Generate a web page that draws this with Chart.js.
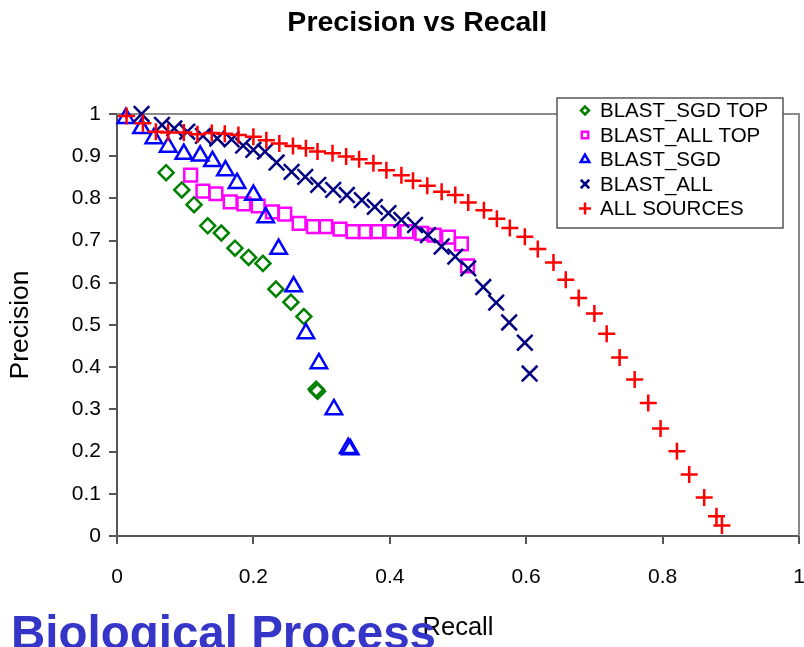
<!DOCTYPE html>
<html>
<head>
<meta charset="utf-8">
<script src="https://cdn.jsdelivr.net/npm/chart.js@4/dist/chart.umd.min.js"></script>
<style>
  body { margin: 0; background: #fff; overflow: hidden; }
  #wrap { position: relative; width: 804px; height: 647px; overflow: hidden; }
  #bp {
    position: absolute; left: 11px; top: 609px;
    font: bold 47.5px "Liberation Sans", Arial, sans-serif; line-height: 47px;
    color: #3535c8; white-space: nowrap;
  }
</style>
</head>
<body>
<div id="wrap">
  <canvas id="myChart" width="804" height="647"></canvas>
  <div id="bp">Biological Process</div>
</div>
<script>
// Series: recall (x) and precision (y)
var sgdTopRecall    = [0.072, 0.095, 0.113, 0.133, 0.153, 0.173, 0.193, 0.214, 0.233, 0.255, 0.274, 0.292, 0.294];
var sgdTopPrecision = [0.861, 0.820, 0.785, 0.735, 0.718, 0.682, 0.660, 0.646, 0.585, 0.554, 0.520, 0.348, 0.343];

var allTopRecall    = [0.108, 0.126, 0.145, 0.166, 0.186, 0.207, 0.228, 0.246, 0.267, 0.288, 0.306, 0.327, 0.346, 0.364, 0.381, 0.403, 0.425, 0.447, 0.465, 0.486, 0.505, 0.514];
var allTopPrecision = [0.855, 0.817, 0.811, 0.792, 0.787, 0.782, 0.768, 0.763, 0.741, 0.733, 0.733, 0.727, 0.721, 0.721, 0.721, 0.721, 0.721, 0.717, 0.713, 0.708, 0.692, 0.640];

var sgdRecall    = [0.013, 0.036, 0.054, 0.075, 0.098, 0.122, 0.140, 0.159, 0.176, 0.200, 0.218, 0.237, 0.259, 0.277, 0.296, 0.318, 0.339, 0.342];
var sgdPrecision = [0.990, 0.966, 0.942, 0.922, 0.905, 0.901, 0.888, 0.866, 0.836, 0.808, 0.755, 0.680, 0.591, 0.480, 0.409, 0.300, 0.208, 0.205];

var allRecall    = [0.036, 0.066, 0.084, 0.103, 0.126, 0.147, 0.168, 0.185, 0.200, 0.217, 0.234, 0.256, 0.276, 0.295, 0.317, 0.337, 0.359, 0.378, 0.398, 0.417, 0.437, 0.456, 0.476, 0.496, 0.515, 0.537, 0.556, 0.575, 0.598, 0.605];
var allPrecision = [1.000, 0.974, 0.966, 0.958, 0.948, 0.942, 0.940, 0.925, 0.915, 0.911, 0.885, 0.863, 0.851, 0.832, 0.820, 0.808, 0.796, 0.780, 0.765, 0.749, 0.737, 0.713, 0.686, 0.662, 0.634, 0.590, 0.553, 0.506, 0.458, 0.385];

var srcRecall    = [0.014, 0.038, 0.057, 0.075, 0.098, 0.118, 0.139, 0.158, 0.178, 0.200, 0.219, 0.238, 0.258, 0.277, 0.294, 0.316, 0.336, 0.355, 0.376, 0.395, 0.417, 0.434, 0.455, 0.476, 0.496, 0.515, 0.538, 0.557, 0.576, 0.598, 0.617, 0.640, 0.658, 0.677, 0.700, 0.718, 0.737, 0.759, 0.779, 0.797, 0.821, 0.839, 0.861, 0.879, 0.887];
var srcPrecision = [0.995, 0.978, 0.958, 0.956, 0.956, 0.952, 0.955, 0.953, 0.950, 0.946, 0.938, 0.930, 0.924, 0.919, 0.911, 0.907, 0.899, 0.893, 0.883, 0.867, 0.855, 0.842, 0.830, 0.816, 0.808, 0.790, 0.772, 0.752, 0.730, 0.709, 0.680, 0.648, 0.607, 0.564, 0.527, 0.479, 0.423, 0.371, 0.315, 0.255, 0.201, 0.146, 0.091, 0.047, 0.025];

var seriesNames = ['BLAST_SGD TOP', 'BLAST_ALL TOP', 'BLAST_SGD', 'BLAST_ALL', 'ALL SOURCES'];
var chartTitle = 'Precision vs Recall';

function toPoints(xs, ys) {
    return xs.map(function (x, i) { return { x: x, y: ys[i] }; });
}

var FONT = '"Liberation Sans", Arial, sans-serif';

// title, frame on top/right of the plot and the boxed legend, Excel style
var framePlugin = {
    id: 'frame',
    afterLayout: function (chart) {
        // let the plot run up to the right edge like the Excel original
        var a = chart.chartArea, x = chart.scales.x;
        var target = chart.width - 5;
        if (a.right !== target) {
            a.right = target;
            a.width = a.right - a.left;
            x.right = target;
            x.width = target - x.left;
            x.configure();
            x._labelItems = null;
            x._gridLineItems = null;
        }
    },
    beforeDatasetsDraw: function (chart) {
        var a = chart.chartArea, ctx = chart.ctx;
        ctx.save();
        ctx.strokeStyle = '#8a8a8a';
        ctx.lineWidth = 2;
        ctx.beginPath();
        ctx.moveTo(a.left, a.top);
        ctx.lineTo(a.right, a.top);
        ctx.lineTo(a.right, a.bottom);
        ctx.stroke();
        // chart title (Excel centres it a bit right of the page middle)
        ctx.fillStyle = '#000';
        ctx.font = 'bold 28.5px ' + FONT;
        ctx.textAlign = 'center';
        ctx.textBaseline = 'middle';
        ctx.fillText(chartTitle, chart.width * 0.519, 23);
        ctx.restore();
    },
    afterDraw: function (chart) {
        var a = chart.chartArea, ctx = chart.ctx;
        var bx = a.right - 242, by = a.top - 16, bw = 226, bh = 130;
        ctx.save();
        ctx.fillStyle = '#fff';
        ctx.fillRect(bx, by, bw, bh);
        ctx.strokeStyle = '#555';
        ctx.lineWidth = 1.5;
        ctx.strokeRect(bx, by, bw, bh);
        ctx.font = '20.5px ' + FONT;
        ctx.textBaseline = 'middle';
        var small = [4, 4.5, 5, 6, 6];
        chart.data.datasets.forEach(function (ds, i) {
            var y = by + 12.5 + i * 24.5;
            ctx.strokeStyle = ds.borderColor;
            ctx.fillStyle = '#fff';
            ctx.lineWidth = 2.5;
            Chart.helpers.drawPoint(ctx, { pointStyle: ds.pointStyle, radius: small[i], borderWidth: 2.5 }, bx + 28, y);
            ctx.fillStyle = '#000';
            ctx.fillText(ds.label, bx + 43, y + 1);
        });
        ctx.restore();
    }
};

function makeSet(i, xs, ys, style, color, radius, order) {
    return {
        label: seriesNames[i],
        data: toPoints(xs, ys),
        pointStyle: style,
        borderColor: color,
        backgroundColor: 'rgba(0,0,0,0)',
        pointRadius: radius,
        pointBorderWidth: 2.5,
        showLine: false,
        clip: false,
        order: order
    };
}

function tickText(v) {
    return String(+v.toFixed(1));
}

var ctx = document.getElementById('myChart').getContext('2d');
var myChart = new Chart(ctx, {
    type: 'scatter',
    data: {
        datasets: [
            makeSet(0, sgdTopRecall, sgdTopPrecision, 'rectRot', '#008000', 7.5, 5),
            makeSet(1, allTopRecall, allTopPrecision, 'rect', '#ff00ff', 9, 4),
            makeSet(2, sgdRecall, sgdPrecision, 'triangle', '#0000ff', 9.5, 3),
            makeSet(3, allRecall, allPrecision, 'crossRot', '#000080', 11, 2),
            makeSet(4, srcRecall, srcPrecision, 'cross', '#ff0000', 8.5, 1)
        ]
    },
    options: {
        responsive: false,
        animation: false,
        layout: { padding: { left: 0, right: 6, top: 114, bottom: 0 } },
        plugins: {
            legend: { display: false },
            tooltip: { enabled: false },
            title: { display: false }
        },
        scales: {
            x: {
                type: 'linear',
                min: 0, max: 1,
                ticks: { stepSize: 0.2, color: '#000', padding: 21, font: { family: FONT, size: 21 }, callback: tickText },
                grid: { drawOnChartArea: false, drawTicks: true, tickLength: 8, color: '#555', lineWidth: 2 },
                border: { display: true, color: '#555', width: 2 },
                title: { display: true, text: 'Recall', color: '#000', font: { family: FONT, size: 25.5, lineHeight: 1.2 }, padding: { top: 0, bottom: 4 } },
                afterFit: function (scale) { scale.height = 111; scale.paddingLeft = 0; scale.paddingRight = 0; }
            },
            y: {
                type: 'linear',
                min: 0, max: 1,
                ticks: { stepSize: 0.1, color: '#000', padding: 8, font: { family: FONT, size: 21 }, callback: tickText },
                grid: { drawOnChartArea: false, drawTicks: true, tickLength: 8, color: '#555', lineWidth: 2 },
                border: { display: true, color: '#555', width: 2 },
                title: { display: true, text: 'Precision', color: '#000', font: { family: FONT, size: 26.5, lineHeight: 1.2 }, padding: { top: 5, bottom: 0 } },
                afterFit: function (scale) { scale.width = 117; }
            }
        }
    },
    plugins: [framePlugin]
});
</script>
</body>
</html>
